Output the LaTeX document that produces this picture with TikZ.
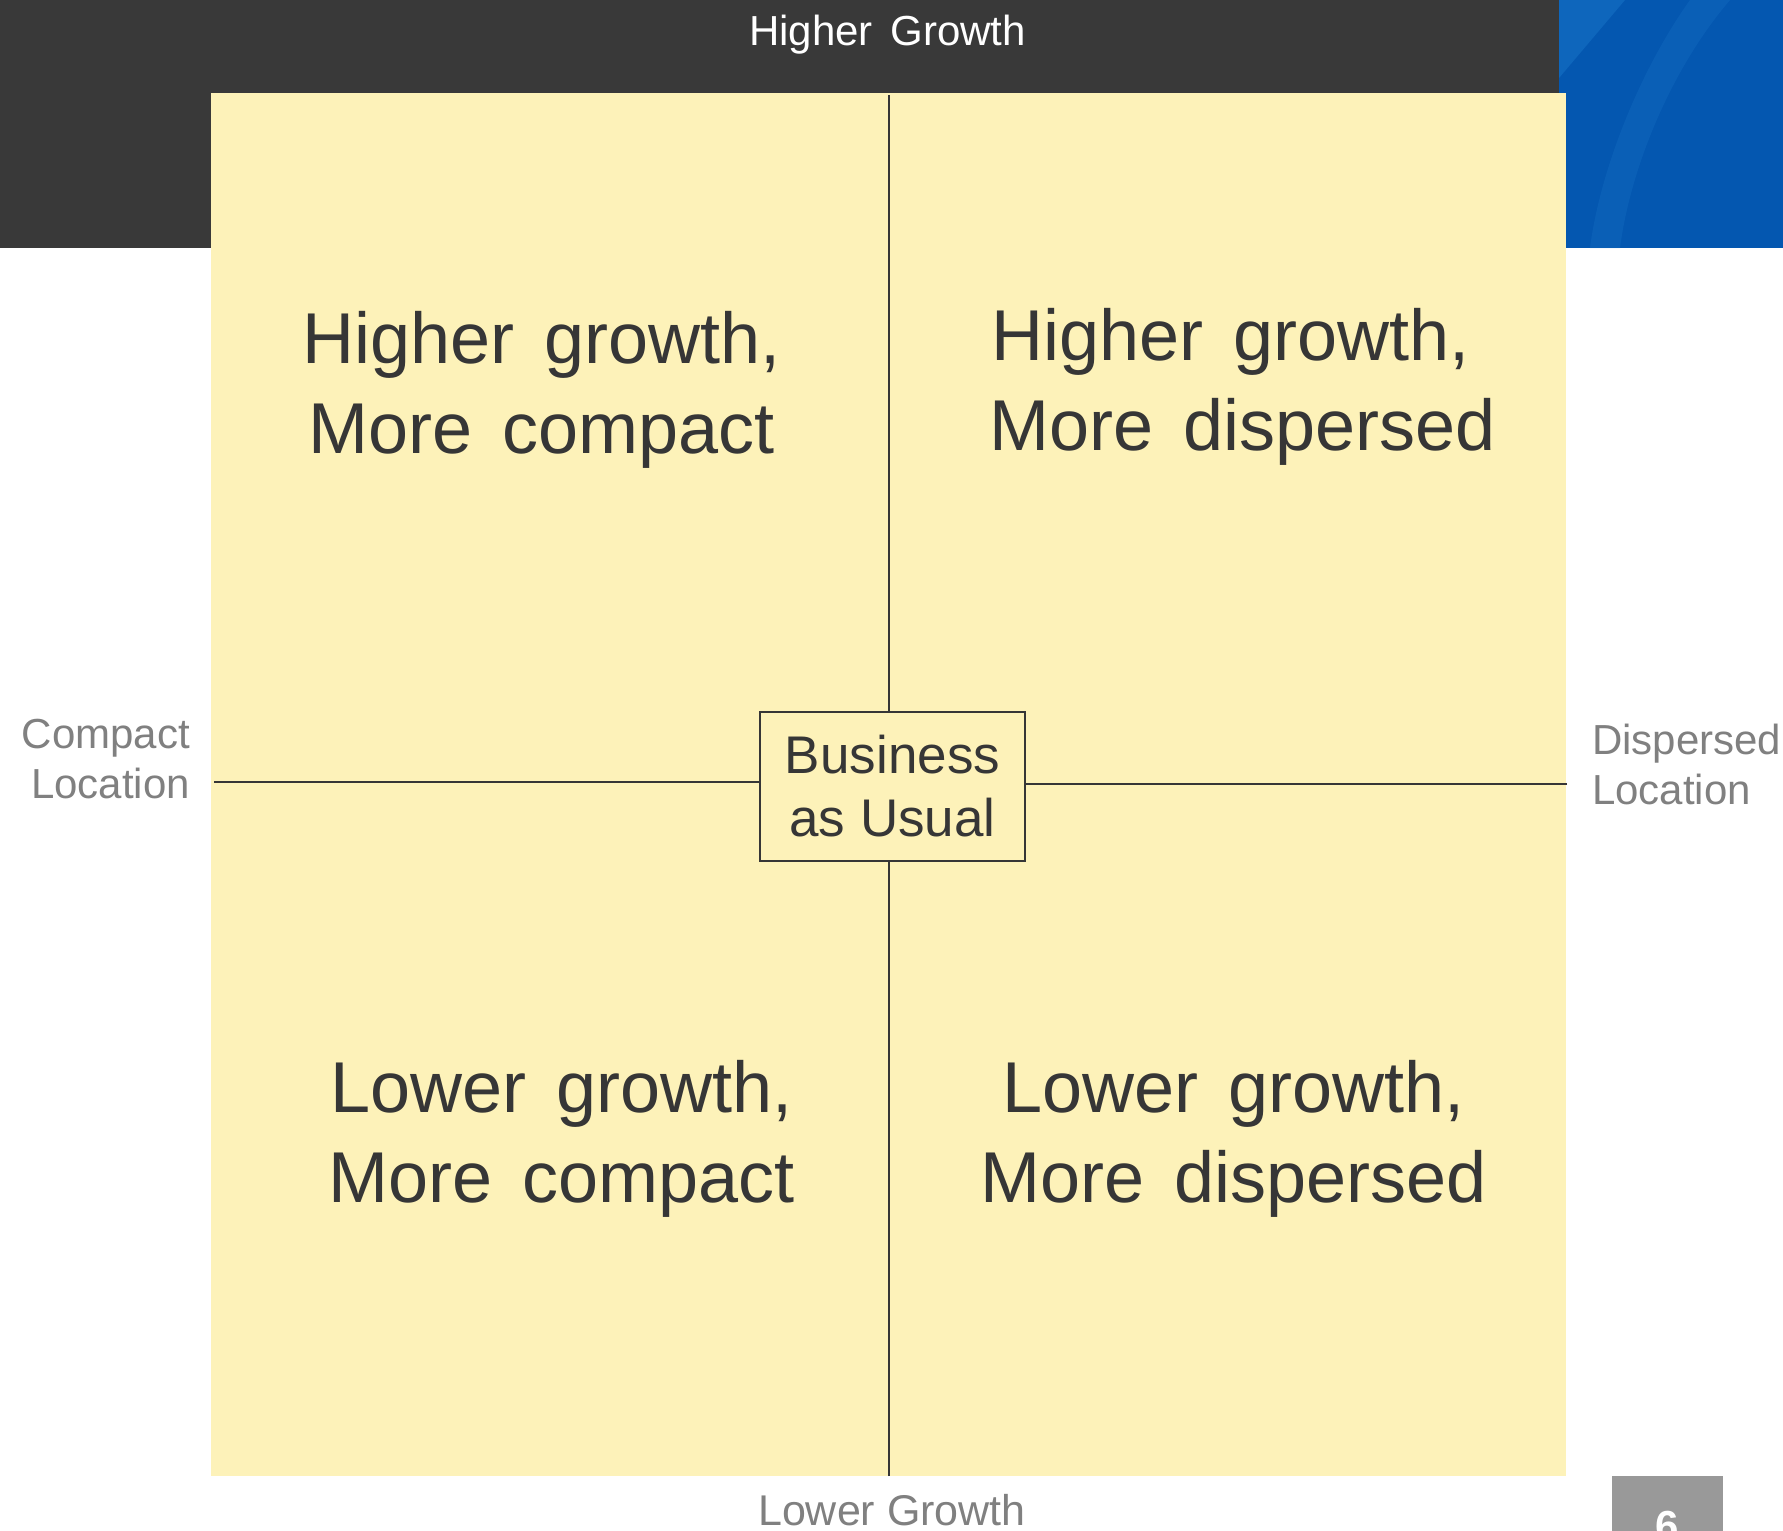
\documentclass[tikz,border=0pt]{standalone}
\usepackage{fontspec}
\setmainfont{Liberation Sans}
\newfontfamily\widesp[WordSpace=1.5]{Liberation Sans}
\definecolor{panel}{HTML}{FDF2B9}
\definecolor{headerdark}{HTML}{393939}
\definecolor{ink}{HTML}{363636}
\definecolor{axisgray}{HTML}{808080}
\definecolor{pagegray}{HTML}{999999}
\definecolor{bluebase}{HTML}{0457B0}
\definecolor{bluelight}{HTML}{1670C4}
\tikzset{
  quad/.style={inner sep=0pt, align=center, text=ink, font=\widesp\fontsize{72}{90}\selectfont},
  axislabel/.style={inner sep=0pt, text=axisgray, font=\fontsize{42}{50}\selectfont},
  bau/.style={draw=ink, line width=1.6pt, fill=panel, inner sep=0pt, minimum width=265pt, minimum height=149pt, align=center, text=ink, font=\fontsize{53}{63}\selectfont},
  axisline/.style={draw=ink, line width=1.6pt},
}
\begin{document}
\begin{tikzpicture}[x=1pt,y=-1pt]
\useasboundingbox (0,0) rectangle (1783,1531);
\clip (0,0) rectangle (1783,1531);
\fill[white] (0,0) rectangle (1783,1531);
% header
\fill[headerdark] (0,0) rectangle (1559,248);
% blue corner
\fill[bluebase] (1559,0) rectangle (1783,248);
\fill[bluelight, opacity=0.6] (1559,0) -- (1625,0) -- (1559,78) -- cycle;
\fill[bluelight, opacity=0.35] (1690,0) .. controls (1640,70) and (1600,170) .. (1590,248) -- (1620,248) .. controls (1630,170) and (1670,70) .. (1730,0) -- cycle;
% panel
\fill[panel] (211,93) rectangle (1566,1476);
% centre box
\node[bau] (bau) at (892.5,786.5) {Business\\as Usual};
\coordinate (top) at (889,95);
\coordinate (bottom) at (889,1476);
\coordinate (left) at (214,782);
\coordinate (right) at (1567,784);
\draw[axisline] (top) -- (top |- bau.north);
\draw[axisline] (bottom) -- (bottom |- bau.south);
\draw[axisline] (left) -- (left -| bau.west);
\draw[axisline] (right) -- (right -| bau.east);
% quadrant texts
\node[quad] (hc) at (542,390) {Higher growth,\\More compact};
\node[quad] (hd) at (1243,387) {Higher growth,\hspace*{24pt}\\More dispersed};
\node[quad] (lc) at (562,1139) {Lower growth,\\More compact};
\node[quad] (ld) at (1234,1139) {Lower growth,\\More dispersed};
% axis labels
\node[inner sep=0pt, anchor=base, text=white, font=\widesp\fontsize{42}{50}\selectfont] (hg) at (887.5,45) {Higher Growth};
\node[axislabel, anchor=base, font=\fontsize{43}{50}\selectfont] (lg) at (892,1525) {Lower Growth};
\node[axislabel, anchor=east, align=right] (cl) at (190,759) {Compact\\Location};
\node[axislabel, anchor=west, align=left] (dl) at (1592,764) {Dispersed\\Location};
% page number
\node[fill=pagegray, inner sep=0pt, minimum width=111pt, minimum height=56pt] (pg) at (1667.5,1504) {};
\node[inner sep=0pt, anchor=base, text=white, font=\fontsize{42}{50}\selectfont\bfseries] (pn) at (1667.5,1540) {6};
\end{tikzpicture}
\end{document}
